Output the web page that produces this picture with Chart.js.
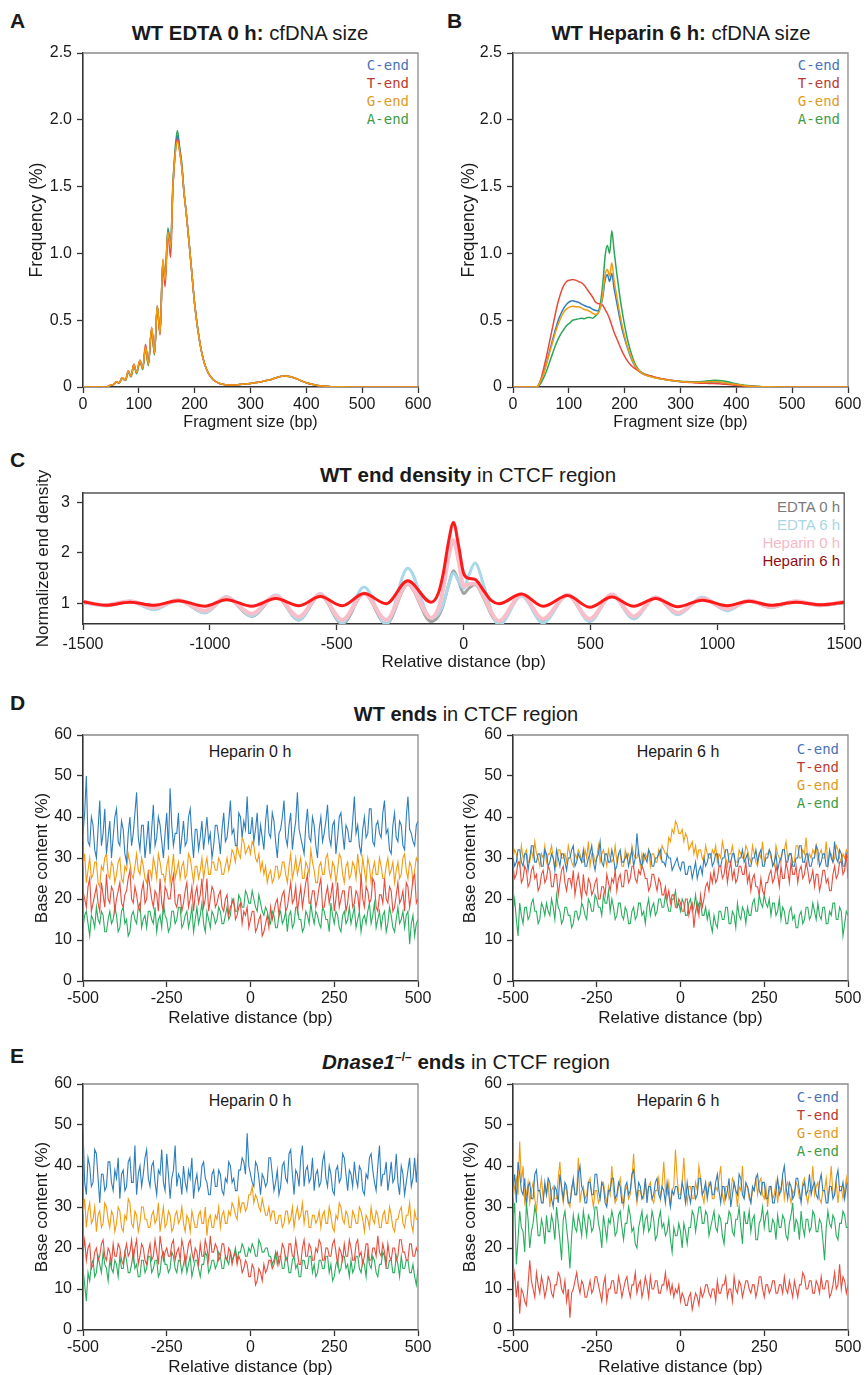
<!DOCTYPE html>
<html>
<head>
<meta charset="utf-8">
<script src="https://cdn.jsdelivr.net/npm/chart.js@4"></script>
<style>
body { margin: 0; background: #fff; overflow: hidden; }
#page { position: relative; width: 867px; height: 1375px; font-family: "Liberation Sans", Arial, sans-serif; color: #1a1a1a; }
canvas { position: absolute; }
.t { position: absolute; white-space: nowrap; transform: translate(-50%, -50%); }
.lt { position: absolute; font-weight: bold; font-size: 21px; line-height: 1; }
.lg { position: absolute; text-align: right; font-family: "DejaVu Sans Mono", monospace; font-size: 14px; line-height: 18px; white-space: nowrap; }
.lg2 { position: absolute; text-align: right; font-size: 15px; line-height: 18px; white-space: nowrap; }
sup { font-size: 12px; vertical-align: 8px; line-height: 0; }
</style>
</head>
<body>
<div id="page">
  <div class="lt" style="left:10px;top:10px">A</div>
  <div class="lt" style="left:447px;top:10px">B</div>
  <div class="lt" style="left:10px;top:449px">C</div>
  <div class="lt" style="left:10px;top:692px">D</div>
  <div class="lt" style="left:10px;top:1045px">E</div>

  <div class="t" style="left:250px;top:33px;font-size:20.3px"><b>WT EDTA 0 h:</b> cfDNA size</div>
  <div class="t" style="left:681px;top:33px;font-size:20.3px"><b>WT Heparin 6 h:</b> cfDNA size</div>
  <div class="t" style="left:468px;top:475px;font-size:20.5px"><b>WT end density</b> in CTCF region</div>
  <div class="t" style="left:466px;top:714px;font-size:20px"><b>WT ends</b> in CTCF region</div>
  <div class="t" style="left:466px;top:1062px;font-size:20.5px"><b><i>Dnase1</i><sup>–/–</sup> ends</b> in CTCF region</div>

  <div class="t" style="left:250px;top:752px;font-size:16px">Heparin 0 h</div>
  <div class="t" style="left:678px;top:752px;font-size:16px">Heparin 6 h</div>
  <div class="t" style="left:250px;top:1101px;font-size:16px">Heparin 0 h</div>
  <div class="t" style="left:678px;top:1101px;font-size:16px">Heparin 6 h</div>

  <div class="lg" style="right:458px;top:56px"><span style="color:#4a72ba">C-end</span><br><span style="color:#b93a32">T-end</span><br><span style="color:#df9a26">G-end</span><br><span style="color:#3f9c45">A-end</span></div>
  <div class="lg" style="right:27px;top:56px"><span style="color:#4a72ba">C-end</span><br><span style="color:#b93a32">T-end</span><br><span style="color:#df9a26">G-end</span><br><span style="color:#3f9c45">A-end</span></div>
  <div class="lg" style="right:28px;top:740px"><span style="color:#4a72ba">C-end</span><br><span style="color:#b93a32">T-end</span><br><span style="color:#df9a26">G-end</span><br><span style="color:#3f9c45">A-end</span></div>
  <div class="lg" style="right:28px;top:1088px"><span style="color:#4a72ba">C-end</span><br><span style="color:#b93a32">T-end</span><br><span style="color:#df9a26">G-end</span><br><span style="color:#3f9c45">A-end</span></div>
  <div class="lg2" style="right:27px;top:498px"><span style="color:#7a7a7a">EDTA 0 h</span><br><span style="color:#a9d6e6">EDTA 6 h</span><br><span style="color:#f7b9c6">Heparin 0 h</span><br><span style="color:#8b1010">Heparin 6 h</span></div>
</div>

<script>
// ---- panel A/B: fragment size distributions ----
const sizeX = [0,40,45,50,55, 60,65,70,76,81, 86,91,96,102,107, 112,117,123,128,133, 138,143,147,152,157, 161,165,169,173,177, 181,185,190,195,200, 206,212,218,225,232, 240,250,260,270,280, 290,300,310,320,330, 340,350,360,370,380, 390,400,410,420,430, 440,450,460,480,500, 550,600];
const sizeTicks = [0,100,200,300,400,500,600];
const freqTicks = [0,0.5,1,1.5,2,2.5];

const edta0_C = [0,0,0.005,0.015,0.02, 0.04,0.03,0.07,0.05,0.12, 0.08,0.17,0.11,0.2,0.14, 0.3,0.17,0.44,0.25,0.61, 0.4,0.95,0.8,1.17,1.05, 1.5,1.75,1.88,1.78,1.65, 1.45,1.3,1.08,0.85,0.62, 0.42,0.27,0.17,0.1,0.06, 0.035,0.02,0.015,0.015,0.018, 0.022,0.027,0.033,0.04,0.05, 0.06,0.075,0.082,0.078,0.065, 0.048,0.032,0.02,0.012,0.007, 0.004,0.002,0.001,0,0, 0,0];
const edta0_T = [0,0,0.005,0.015,0.02, 0.04,0.03,0.07,0.05,0.12, 0.08,0.17,0.11,0.2,0.14, 0.32,0.17,0.44,0.25,0.6, 0.39,0.93,0.75,1.15,0.97, 1.48,1.74,1.86,1.77,1.65, 1.45,1.3,1.08,0.85,0.62, 0.42,0.27,0.17,0.1,0.06, 0.035,0.02,0.015,0.015,0.018, 0.022,0.027,0.033,0.04,0.05, 0.06,0.075,0.082,0.078,0.065, 0.048,0.032,0.02,0.012,0.007, 0.004,0.002,0.001,0,0, 0,0];
const edta0_G = [0,0,0.005,0.015,0.02, 0.04,0.03,0.07,0.05,0.12, 0.08,0.17,0.11,0.2,0.14, 0.3,0.17,0.45,0.25,0.61, 0.4,0.96,0.8,1.16,1.05, 1.5,1.74,1.84,1.76,1.64, 1.45,1.3,1.08,0.85,0.62, 0.42,0.27,0.17,0.1,0.06, 0.035,0.02,0.015,0.015,0.018, 0.022,0.027,0.033,0.04,0.05, 0.06,0.075,0.083,0.079,0.066, 0.049,0.033,0.02,0.012,0.007, 0.004,0.002,0.001,0,0, 0,0];
const edta0_A = [0,0,0.004,0.013,0.018, 0.035,0.028,0.065,0.048,0.11, 0.075,0.16,0.1,0.19,0.13, 0.29,0.16,0.43,0.24,0.6, 0.4,0.94,0.8,1.19,1.08, 1.52,1.78,1.92,1.8,1.67, 1.46,1.3,1.08,0.85,0.62, 0.42,0.27,0.17,0.1,0.06, 0.035,0.02,0.015,0.015,0.018, 0.022,0.027,0.033,0.04,0.05, 0.06,0.075,0.082,0.078,0.065, 0.048,0.032,0.02,0.012,0.007, 0.004,0.002,0.001,0,0, 0,0];

const hep6_C = [0,0,0.01,0.05,0.11, 0.18,0.26,0.34,0.43,0.5, 0.55,0.59,0.62,0.64,0.645, 0.64,0.635,0.62,0.61,0.6, 0.595,0.58,0.575,0.57,0.6, 0.68,0.8,0.84,0.79,0.85, 0.74,0.65,0.54,0.44,0.36, 0.28,0.21,0.16,0.12,0.1, 0.085,0.075,0.065,0.058,0.05, 0.045,0.04,0.038,0.036,0.035, 0.035,0.036,0.037,0.036,0.03, 0.024,0.018,0.012,0.008,0.005, 0.003,0.002,0.001,0,0, 0,0];
const hep6_T = [0,0,0.01,0.06,0.14, 0.23,0.33,0.43,0.55,0.64, 0.71,0.76,0.79,0.8,0.805, 0.8,0.79,0.78,0.76,0.73, 0.7,0.67,0.64,0.625,0.62, 0.61,0.58,0.55,0.51,0.46, 0.41,0.37,0.32,0.27,0.23, 0.19,0.16,0.14,0.12,0.1, 0.09,0.078,0.068,0.06,0.052, 0.046,0.04,0.036,0.033,0.03, 0.028,0.027,0.026,0.024,0.02, 0.016,0.012,0.009,0.006,0.004, 0.002,0.001,0,0,0, 0,0];
const hep6_G = [0,0,0.01,0.05,0.1, 0.17,0.25,0.32,0.41,0.47, 0.52,0.56,0.585,0.6,0.605, 0.6,0.6,0.59,0.58,0.575, 0.565,0.55,0.545,0.55,0.6, 0.7,0.84,0.88,0.83,0.93, 0.8,0.7,0.58,0.47,0.38, 0.29,0.22,0.165,0.125,0.1, 0.085,0.073,0.063,0.056,0.05, 0.045,0.041,0.038,0.036,0.035, 0.036,0.038,0.04,0.038,0.032, 0.025,0.019,0.013,0.008,0.005, 0.003,0.002,0.001,0,0, 0,0];
const hep6_A = [0,0,0.005,0.03,0.07, 0.12,0.18,0.24,0.31,0.36, 0.4,0.43,0.46,0.48,0.5, 0.505,0.51,0.515,0.51,0.52, 0.52,0.515,0.53,0.55,0.64, 0.78,0.98,1.06,1.0,1.17, 1.02,0.88,0.72,0.58,0.46, 0.34,0.25,0.18,0.13,0.105, 0.09,0.078,0.066,0.058,0.051, 0.046,0.043,0.041,0.04,0.04, 0.042,0.046,0.05,0.049,0.043, 0.034,0.025,0.017,0.011,0.007, 0.004,0.002,0.001,0,0, 0,0];

// ---- panel C: end density around CTCF ----
const densX = [-1500,-1410,-1315,-1220,-1125, -1020,-935,-835,-740,-650, -565,-478,-392,-305,-220, -128,-100,-80,-60,-40, -20,0,20,45,80, 110,140,228,313,410, 497,584,670,757,844, 941,1038,1125,1212,1309, 1407,1500];
const densXTicks = [-1500,-1000,-500,0,500,1000,1500];
const densYTicks = [1,2,3];
const dens_edta0 = [1.02,0.97,1.05,0.9,1.07, 0.82,1.12,0.75,1.15,0.68, 1.17,0.6,1.2,0.6,1.38, 0.65,0.75,0.98,1.35,1.65, 1.45,1.2,1.3,1.38,1.1, 0.78,0.6,1.17,0.65,1.17, 0.67,1.17,0.72,1.12,0.8, 1.1,0.88,1.05,0.93,1.04, 0.97,1.02];
const dens_edta6 = [1.02,0.96,1.04,0.88,1.08, 0.82,1.14,0.76,1.17,0.68, 1.2,0.62,1.33,0.6,1.7, 0.72,0.8,1.0,1.35,1.6, 1.45,1.3,1.55,1.8,1.35, 0.85,0.58,1.15,0.62,1.18, 0.65,1.18,0.7,1.13,0.78, 1.13,0.86,1.07,0.92,1.05, 0.96,1.03];
const dens_hep0 = [1.04,0.97,1.05,0.92,1.07, 0.86,1.12,0.8,1.15,0.74, 1.18,0.68,1.2,0.68,1.4, 0.72,0.9,1.3,1.9,2.25, 1.85,1.35,1.38,1.4,1.15, 0.82,0.66,1.18,0.7,1.17, 0.7,1.18,0.75,1.12,0.82, 1.1,0.9,1.06,0.94,1.05, 0.97,1.04];
const dens_hep6 = [1.04,0.97,1.03,0.97,1.06, 0.95,1.08,0.95,1.10,0.96, 1.14,0.96,1.20,1.00,1.45, 1.03,1.2,1.6,2.2,2.6, 2.15,1.6,1.5,1.48,1.25, 1.06,1.0,1.19,0.95,1.16, 0.93,1.13,0.95,1.10,0.94, 1.07,0.96,1.05,0.97,1.03, 0.98,1.03];

// ---- panels D/E: base content at ends, -500..500 bp every 5 bp ----
const distX = Array.from({ length: 201 }, (_, i) => -500 + 5 * i);
const distTicks = [-500,-250,0,250,500];
const contentTicks = [0,10,20,30,40,50,60];

// WT, Heparin 0 h
const wtH0_C = [
36,41,50,34,33,40,38,32,30,37,44,33,36,42,31,35,39,30,35,40,
42,34,33,39,37,31,29,36,40,33,36,41,46,35,32,38,38,30,34,39,
31,37,43,33,35,40,38,34,30,36,41,32,47,38,33,36,36,41,31,35,
39,33,34,40,42,35,30,37,37,32,35,39,32,36,40,34,36,30,33,38,
38,35,31,37,41,34,35,39,44,36,37,33,33,41,40,35,39,37,45,36,
36,40,34,37,41,33,38,35,32,39,43,36,35,41,39,34,30,36,37,40,
44,35,33,38,41,32,36,39,46,37,35,33,31,38,42,35,34,40,38,33,
30,37,40,34,36,39,43,35,33,38,39,31,35,40,41,36,32,38,37,34,
34,39,45,36,38,33,31,37,40,35,36,42,42,34,33,38,39,36,35,41,
44,36,37,32,31,38,41,35,34,39,38,33,32,40,45,37,36,34,33,38,
39];
const wtH0_T = [
22,20,18,23,25,17,19,21,23,19,17,24,21,18,26,20,19,23,22,17,
20,22,24,19,18,21,22,25,27,20,19,23,21,18,17,22,24,19,20,26,
23,20,18,22,21,17,25,19,17,23,22,20,20,24,26,19,18,21,21,17,
19,22,24,18,20,23,17,21,23,19,21,25,18,20,25,17,20,23,22,18,
19,21,22,18,17,20,21,16,18,19,20,15,16,18,19,14,17,16,18,13,
15,17,17,12,13,15,16,11,12,14,16,13,18,15,17,19,20,16,19,21,
22,17,18,21,24,19,20,23,17,20,23,18,21,24,26,19,19,22,22,18,
20,23,25,18,18,21,23,19,21,24,17,20,24,18,20,22,22,17,19,23,
23,18,19,22,21,17,26,20,18,23,22,19,20,25,24,18,17,21,21,19,
25,20,19,23,22,17,18,21,24,19,20,22,17,24,23,18,21,25,26,19,
20];
const wtH0_G = [
28,31,24,27,30,25,26,29,29,24,23,28,27,30,31,26,25,29,28,24,
26,29,30,25,24,28,27,31,29,26,25,28,31,27,26,30,28,25,24,27,
27,25,30,28,25,31,29,26,26,24,28,30,24,27,31,25,27,29,25,28,
29,25,26,31,30,27,24,28,28,25,27,30,25,28,30,26,26,29,29,27,
27,30,29,26,26,28,30,27,29,32,31,29,33,31,30,35,34,31,32,33,
31,34,33,30,29,31,27,29,26,28,24,26,27,24,25,28,28,25,26,29,
29,26,24,28,31,25,27,30,26,28,30,25,25,29,28,26,32,29,27,24,
24,28,29,26,26,30,31,27,25,29,28,24,27,31,30,26,24,28,29,25,
26,29,28,25,31,27,25,30,27,24,30,28,24,27,29,26,26,30,28,25,
25,28,30,26,27,29,24,27,29,25,26,30,31,27,25,29,28,24,27,30,
29];
const wtH0_A = [
13,16,17,14,11,16,15,13,18,15,14,17,16,12,12,15,17,14,15,18,
16,12,13,17,18,14,15,11,12,16,17,15,14,18,19,13,15,16,13,17,
17,15,14,18,12,15,16,13,19,16,15,12,13,17,17,14,15,18,18,13,
14,16,17,13,15,18,12,15,18,14,16,19,14,12,17,15,13,17,16,14,
15,18,17,14,14,16,18,15,16,20,19,17,17,21,20,18,18,22,21,19,
19,22,20,18,17,21,19,17,16,18,17,15,14,17,16,13,13,16,17,14,
15,17,12,16,17,13,14,18,18,15,15,12,13,17,16,14,19,16,14,17,
16,14,13,18,17,15,15,12,19,16,14,17,16,13,12,16,17,14,15,18,
14,16,18,13,15,17,12,15,16,14,17,19,14,16,19,13,15,17,13,16,
17,12,14,18,16,13,12,15,18,14,15,17,13,16,17,9,14,16,11,14,
15];

// WT, Heparin 6 h
const wtH6_C = [
30,28,29,32,32,29,28,31,31,27,30,33,33,29,29,31,31,28,28,32,
31,28,29,31,30,27,32,30,28,31,31,29,27,30,30,32,33,28,29,31,
30,29,32,28,28,30,31,33,29,27,30,31,34,29,28,31,31,29,29,32,
30,27,28,31,32,29,29,30,31,28,30,32,28,30,36,31,29,28,31,30,
29,32,31,28,28,30,30,31,32,29,29,28,31,30,30,27,28,29,30,28,
27,29,29,26,26,28,28,25,27,29,25,27,28,26,30,28,29,31,31,28,
29,31,31,28,28,30,30,32,32,29,29,31,31,28,28,30,30,32,29,30,
31,28,28,30,30,32,29,31,32,28,28,30,30,32,31,28,29,31,27,29,
30,32,32,29,29,31,31,28,28,30,30,33,33,29,29,31,31,28,28,30,
30,33,32,28,29,31,31,28,28,32,30,29,34,30,29,32,31,28,28,31,
30];
const wtH6_T = [
28,25,26,29,29,24,25,28,27,23,24,27,28,25,26,22,23,26,27,24,
25,28,27,23,23,26,26,21,24,27,28,24,22,25,25,23,27,21,24,26,
23,20,26,22,21,25,24,21,22,24,25,20,20,23,23,21,26,24,22,25,
24,27,22,25,26,23,23,27,27,24,25,28,28,25,24,27,26,28,27,25,
25,22,23,26,26,24,22,25,24,21,21,23,20,22,19,21,21,18,18,20,
19,17,17,20,20,16,18,19,13,17,19,16,21,18,20,23,24,22,26,24,
27,24,25,28,28,25,26,29,24,27,29,25,27,24,25,28,28,26,26,29,
24,26,22,25,26,23,23,21,25,22,21,24,24,26,27,24,25,28,26,23,
28,25,25,29,27,24,29,26,26,28,24,27,28,25,26,29,27,24,25,27,
23,26,26,22,24,27,27,24,25,22,22,26,28,25,26,29,29,26,27,31,
25];
const wtH6_G = [
30,32,31,29,28,33,30,31,32,29,29,32,30,34,31,30,28,31,30,33,
29,31,31,33,30,28,28,32,32,30,30,31,29,33,31,29,28,31,30,32,
31,29,29,32,30,34,28,31,31,29,30,33,29,31,32,30,28,32,30,29,
30,33,29,31,31,28,28,32,30,31,29,33,31,30,30,32,28,31,29,31,
30,32,28,31,31,29,29,32,30,33,32,31,31,35,34,37,36,39,38,36,
36,37,34,36,35,32,33,34,31,33,30,32,32,30,29,33,31,30,30,32,
31,33,29,31,30,34,32,30,28,31,31,33,30,29,29,32,31,30,30,33,
32,30,29,33,31,29,28,31,30,34,29,31,31,32,30,29,28,33,31,30,
29,32,32,34,30,31,31,29,29,33,33,30,30,32,31,35,29,31,30,32,
31,33,29,31,32,30,30,34,28,31,31,29,30,33,32,30,29,31,30,32,
31];
const wtH6_A = [
17,20,15,11,19,16,14,18,18,15,16,19,20,17,17,14,15,19,18,16,
19,17,16,20,18,15,21,18,17,14,15,18,18,16,16,13,14,17,17,15,
16,19,18,16,15,20,19,17,17,21,20,18,18,16,21,19,19,22,17,20,
18,15,16,19,19,16,15,18,17,14,14,17,18,15,16,19,19,16,17,14,
18,20,16,18,19,16,17,20,20,18,18,21,19,17,17,20,20,22,18,19,
17,20,19,16,16,19,20,17,18,21,17,19,19,16,16,18,15,17,14,12,
16,14,13,17,17,15,15,18,18,14,14,17,16,13,19,16,15,18,17,14,
18,16,16,19,20,17,17,21,19,18,21,19,18,20,16,19,19,16,17,20,
15,18,17,14,14,17,18,15,16,13,13,16,17,14,15,18,18,15,16,19,
17,15,19,16,15,18,18,14,14,17,16,19,19,15,15,18,17,11,14,17,
16];

// Dnase1-/-, Heparin 0 h
const dnH0_C = [
49,36,33,42,40,35,36,44,43,37,31,38,38,34,35,41,41,36,34,39,
37,42,32,38,39,34,35,41,42,36,36,45,33,38,40,35,38,42,44,37,
35,40,41,36,33,39,38,44,36,34,43,38,32,37,39,45,35,38,37,33,
40,36,34,39,37,42,32,36,38,34,35,40,41,37,36,33,33,38,39,35,
35,39,38,34,33,37,36,41,40,36,37,34,34,39,39,42,41,38,48,40,
38,36,35,41,40,37,33,38,37,35,36,42,42,38,34,36,39,33,35,40,
41,37,36,43,44,38,33,39,38,35,42,45,35,39,40,36,37,42,34,38,
39,35,36,41,43,37,35,40,38,34,33,39,40,36,37,43,42,38,34,39,
38,35,41,37,35,40,39,34,33,38,37,42,43,39,36,34,40,45,35,38,
38,41,34,37,41,36,37,43,36,33,40,38,33,36,39,42,35,37,42,36,
43];
const dnH0_T = [
19,22,17,20,21,15,16,19,20,17,18,21,22,18,17,20,19,16,21,18,
18,21,20,17,16,19,21,18,19,22,17,20,22,16,18,21,20,17,16,19,
21,17,18,22,19,16,23,20,17,19,20,18,18,21,22,17,19,20,17,22,
20,16,18,21,22,19,17,20,19,16,21,18,18,22,20,17,23,19,19,21,
20,17,18,21,21,18,17,20,19,16,18,19,16,18,17,14,15,17,16,13,
13,16,15,11,12,15,14,12,16,14,15,17,17,15,16,18,19,16,18,21,
20,17,17,21,21,18,18,22,19,16,16,20,22,18,18,21,20,17,17,20,
19,22,21,17,17,20,20,18,18,21,22,19,16,20,19,17,21,18,18,22,
20,17,17,21,22,18,19,16,18,21,21,17,17,20,20,18,23,19,18,21,
19,16,21,18,17,20,20,17,18,22,22,19,19,17,17,21,21,18,18,20,
19];
const dnH0_G = [
28,32,25,29,31,26,27,30,24,28,29,25,26,31,30,27,25,29,28,24,
26,30,29,25,24,28,27,32,31,26,25,29,28,24,26,30,30,27,27,25,
25,28,29,26,27,31,24,27,30,25,26,29,28,24,25,28,29,26,27,30,
26,24,28,27,24,29,27,25,25,28,29,26,26,30,23,27,28,25,25,28,
27,30,25,28,29,26,26,29,28,31,30,28,27,32,29,31,31,29,30,33,
33,35,31,33,32,30,29,32,30,28,28,30,27,29,29,26,26,28,28,25,
26,29,29,26,27,30,25,28,30,27,28,31,26,29,29,25,25,28,28,26,
27,29,25,28,29,26,26,30,28,25,24,28,27,31,30,27,26,29,28,25,
25,29,28,26,26,30,29,27,24,28,27,25,30,27,26,29,28,25,25,28,
29,26,26,30,28,25,24,27,27,29,30,26,25,28,28,31,26,24,29,27,
27];
const dnH0_A = [
15,11,7,14,12,16,17,13,14,18,16,14,19,16,15,12,17,15,14,17,
16,13,18,15,15,19,17,14,14,16,19,15,16,13,13,17,17,14,15,18,
18,14,15,17,17,13,14,18,19,16,16,14,15,19,18,15,14,17,17,14,
16,18,14,16,18,13,15,17,17,15,13,16,16,19,18,14,15,17,17,15,
16,19,18,15,15,18,17,16,19,17,18,20,17,19,19,21,20,18,18,20,
19,21,20,18,18,22,21,19,19,20,20,18,18,16,17,19,16,18,18,15,
15,18,17,14,14,17,18,15,16,13,13,17,17,15,15,18,18,14,16,13,
14,17,17,15,15,18,18,14,16,12,13,16,17,14,15,18,18,15,16,13,
17,14,15,18,18,15,14,17,16,13,19,16,15,18,17,14,13,16,16,19,
18,15,15,17,17,14,14,18,16,13,18,15,15,17,17,14,14,16,13,11,
15];

// Dnase1-/-, Heparin 6 h
const dnH6_C = [
35,38,31,41,38,34,33,37,30,35,36,32,32,38,39,34,34,31,31,36,
33,37,36,32,30,35,34,31,38,35,32,36,35,31,31,34,37,33,33,38,
40,35,34,31,31,36,36,33,33,38,38,34,32,36,35,31,30,34,34,37,
37,32,33,36,35,31,31,35,36,33,34,38,39,35,32,36,35,32,33,37,
31,35,35,32,33,36,37,33,32,35,34,31,36,33,30,34,33,35,35,32,
32,36,34,31,36,33,31,35,35,32,33,37,37,33,34,36,32,35,36,33,
33,36,38,34,31,35,35,32,34,37,30,33,36,34,33,38,37,33,32,36,
35,33,31,35,34,37,38,34,33,36,36,32,32,35,35,31,31,34,37,33,
34,38,40,35,32,36,35,32,33,37,37,34,31,35,36,33,34,38,33,35,
36,33,32,36,38,34,34,31,31,35,35,32,33,37,39,34,34,36,32,35,
36];
const dnH6_T = [
11,14,8,12,4,10,9,7,6,11,17,12,10,8,14,11,9,13,11,8,
10,13,12,9,8,11,11,14,13,10,9,12,7,10,3,9,10,12,14,11,
9,12,11,8,8,10,12,9,10,13,13,11,9,7,11,13,7,10,10,12,
12,9,9,13,11,8,10,12,13,10,8,11,11,14,9,11,12,8,10,13,
11,8,13,10,10,12,12,9,9,11,11,14,10,12,9,11,8,10,9,11,
7,9,8,6,6,8,9,5,7,9,8,6,10,8,9,11,11,9,8,10,
10,7,12,9,9,11,11,13,8,10,10,7,13,10,9,12,11,8,10,12,
12,10,9,11,11,8,10,13,13,10,8,11,11,9,10,12,12,9,9,11,
11,9,13,10,9,12,10,8,12,10,8,11,11,14,13,10,10,12,12,9,
9,12,11,9,13,10,10,12,12,8,9,11,14,10,11,16,10,13,12,9,
11];
const dnH6_G = [
32,35,37,33,46,36,40,31,33,36,31,34,36,32,29,34,34,37,32,35,
33,36,30,34,35,32,32,37,41,34,31,35,34,31,30,35,36,33,33,42,
31,34,35,32,33,36,37,33,30,34,34,31,32,36,36,33,31,35,33,40,
34,31,32,35,37,33,30,34,35,32,33,37,43,35,31,34,34,32,32,36,
33,35,36,32,31,34,34,37,32,35,41,34,33,36,30,34,35,44,37,33,
33,36,42,34,31,35,35,32,32,36,34,40,37,33,31,35,33,36,36,32,
32,35,34,37,40,33,31,35,35,32,33,37,36,34,30,35,34,40,32,35,
35,32,31,34,34,37,33,36,37,33,32,35,30,34,35,32,33,36,31,35,
34,37,32,35,36,33,31,34,33,36,35,32,32,36,37,33,31,34,34,40,
33,35,36,32,31,34,34,37,32,35,40,33,33,36,31,35,35,32,34,37,
32];
const dnH6_A = [
27,31,16,22,29,25,24,19,31,27,20,24,26,30,28,23,23,27,25,21,
28,24,24,28,26,22,30,26,22,17,27,29,25,21,15,23,28,25,24,28,
26,23,29,26,23,28,27,24,25,30,30,26,24,20,28,25,22,27,26,29,
27,23,24,28,29,25,22,26,26,30,28,24,25,21,20,25,27,29,24,27,
28,24,25,29,27,22,23,27,29,25,26,23,24,27,22,19,25,23,23,26,
24,20,26,24,21,25,25,29,28,24,27,30,30,26,26,29,28,23,25,27,
29,25,24,28,27,23,21,26,26,29,28,24,23,27,27,30,25,21,29,26,
26,29,24,27,28,22,22,26,27,30,25,28,29,24,24,27,26,22,28,25,
25,28,27,23,22,26,28,31,24,27,26,22,29,25,23,27,27,24,25,29,
28,24,24,27,26,22,17,25,29,26,25,28,27,23,22,26,26,29,28,25,
25];

// colours
const sizeCol = { C: '#2f7bbf', T: '#e84a3b', G: '#f39c12', A: '#2ba655' };
const baseCol = { C: '#2e7ebc', T: '#e74c3c', G: '#f39c12', A: '#29ad5f' };

Chart.defaults.font.family = '"Liberation Sans", Arial, sans-serif';
Chart.defaults.color = '#1a1a1a';

// top + right box lines
const frame = {
  id: 'frame',
  afterDatasetsDraw(chart, args, o) {
    const a = chart.chartArea, c = chart.ctx;
    c.save();
    c.strokeStyle = o.color;
    c.lineWidth = o.width;
    c.beginPath();
    c.moveTo(a.left, a.top);
    c.lineTo(a.right, a.top);
    c.lineTo(a.right, a.bottom);
    c.stroke();
    c.restore();
  }
};

function plot(p) {
  const padT = p.padT || 20, padR = 19;
  const cv = document.createElement('canvas');
  const w = p.R - p.L + p.yw + padR, h = p.B - p.T + padT + p.xh;
  cv.width = w; cv.height = h;
  cv.style.width = w + 'px'; cv.style.height = h + 'px';
  cv.style.left = (p.L - p.yw) + 'px';
  cv.style.top = (p.T - padT) + 'px';
  document.getElementById('page').appendChild(cv);
  const axis = '#333';
  new Chart(cv, {
    type: 'line',
    data: {
      datasets: p.sets.map(s => ({
        data: p.xs.map((x, i) => ({ x: x, y: s.y[i] })),
        borderColor: s.color,
        borderWidth: s.w,
        order: s.order,
        pointRadius: 0,
        tension: 0,
        cubicInterpolationMode: p.smooth ? 'monotone' : 'default',
        fill: false
      }))
    },
    plugins: [frame],
    options: {
      responsive: false,
      animation: false,
      devicePixelRatio: 1,
      events: [],
      layout: { padding: { top: padT, right: padR, left: 0, bottom: 0 } },
      plugins: {
        legend: { display: false },
        tooltip: { enabled: false },
        frame: { color: p.frameColor || '#8a8a8a', width: 1.3 }
      },
      scales: {
        x: {
          type: 'linear',
          min: p.xt[0], max: p.xt[p.xt.length - 1],
          afterBuildTicks: s => { s.ticks = p.xt.map(v => ({ value: v })); },
          afterFit: s => { s.height = p.xh; },
          ticks: { padding: p.xpad, font: { size: p.fs }, maxRotation: 0, autoSkip: false, callback: v => String(v) },
          grid: { drawOnChartArea: false, drawTicks: true, tickLength: 6, color: axis, tickWidth: 1.3 },
          border: { color: axis, width: 1.6 },
          title: { display: true, text: p.xTitle, font: { size: p.xtfs }, padding: { top: 0, bottom: p.xtp } }
        },
        y: {
          min: p.ymin, max: p.ymax,
          afterBuildTicks: s => { s.ticks = p.yt.map(v => ({ value: v })); },
          afterFit: s => { s.width = p.yw; },
          ticks: { padding: p.ypad, font: { size: p.fs }, autoSkip: false, callback: p.yfmt || (v => String(v)) },
          grid: { drawOnChartArea: false, drawTicks: true, tickLength: 6, color: axis, tickWidth: 1.3 },
          border: { color: axis, width: 1.6 },
          title: { display: true, text: p.yTitle, font: { size: p.ytfs }, padding: { top: p.ytp, bottom: 0 } }
        }
      }
    }
  });
}

const freqFmt = v => (v === 0 ? '0' : v.toFixed(1));

function sizeSets(c, t, g, a) {
  return [
    { y: c, color: sizeCol.C, w: 1.5, order: 2 },
    { y: t, color: sizeCol.T, w: 1.5, order: 1 },
    { y: g, color: sizeCol.G, w: 1.5, order: 0 },
    { y: a, color: sizeCol.A, w: 1.5, order: 3 }
  ];
}
function baseSets(c, t, g, a) {
  return [
    { y: c, color: baseCol.C, w: 1.1, order: 2 },
    { y: t, color: baseCol.T, w: 1.1, order: 0 },
    { y: g, color: baseCol.G, w: 1.1, order: 3 },
    { y: a, color: baseCol.A, w: 1.1, order: 1 }
  ];
}

const sizeCommon = { T: 53, B: 387, yw: 83, xh: 53, xs: sizeX, xt: sizeTicks, yt: freqTicks, ymin: 0, ymax: 2.5,
  fs: 16, xtfs: 16, ytfs: 17.5, xpad: 2, ypad: 5, xtp: 7.4, xTitle: 'Fragment size (bp)', yTitle: 'Frequency (%)', yfmt: freqFmt, smooth: true };

plot(Object.assign({}, sizeCommon, { L: 83, R: 418, ytp: 26.5, sets: sizeSets(edta0_C, edta0_T, edta0_G, edta0_A) }));
plot(Object.assign({}, sizeCommon, { L: 513, R: 848, ytp: 28.5, sets: sizeSets(hep6_C, hep6_T, hep6_G, hep6_A) }));

plot({ L: 83, T: 493, R: 848, B: 624, padT: 45, yw: 83, xh: 50, xs: densX, xt: densXTicks, yt: densYTicks, ymin: 0.6, ymax: 3.18,
  fs: 16, xtfs: 17, ytfs: 17, xpad: 5, ypad: 7, ytp: 32.8, xtp: 1.8, xTitle: 'Relative distance (bp)', yTitle: 'Normalized end density',
  smooth: true, frameColor: '#555',
  sets: [
    { y: dens_edta0, color: '#a3a3a3', w: 3, order: 3 },
    { y: dens_edta6, color: '#a8d8ea', w: 3, order: 2 },
    { y: dens_hep0, color: '#f8bfca', w: 4, order: 1 },
    { y: dens_hep6, color: '#ff1a1a', w: 3, order: 0 }
  ] });

const baseCommon = { yw: 83, xs: distX, xt: distTicks, yt: contentTicks, ymin: 0, ymax: 60,
  fs: 16, xtfs: 17, ytfs: 17, xpad: 2, ypad: 5, xTitle: 'Relative distance (bp)', yTitle: 'Base content (%)', smooth: false };

plot(Object.assign({}, baseCommon, { L: 83, R: 418, T: 735, B: 981, xh: 50, ytp: 31.8, xtp: 2.8, sets: baseSets(wtH0_C, wtH0_T, wtH0_G, wtH0_A) }));
plot(Object.assign({}, baseCommon, { L: 513, R: 848, T: 735, B: 981, xh: 50, ytp: 29.8, xtp: 2.8, sets: baseSets(wtH6_C, wtH6_T, wtH6_G, wtH6_A) }));
plot(Object.assign({}, baseCommon, { L: 83, R: 418, T: 1084, B: 1330, xh: 48, ytp: 31.8, xtp: 0.8, sets: baseSets(dnH0_C, dnH0_T, dnH0_G, dnH0_A) }));
plot(Object.assign({}, baseCommon, { L: 513, R: 848, T: 1084, B: 1330, xh: 48, ytp: 29.8, xtp: 0.8, sets: baseSets(dnH6_C, dnH6_T, dnH6_G, dnH6_A) }));
</script>
</body>
</html>
